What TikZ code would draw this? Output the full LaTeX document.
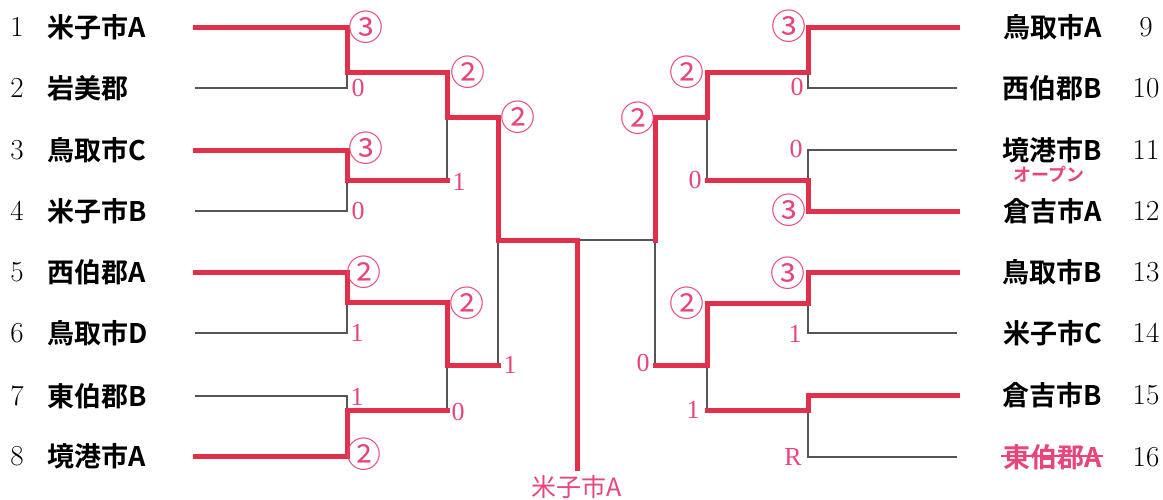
\documentclass[tikz,border=0pt]{standalone}
\usepackage{fontspec}
\newfontfamily\jp{Noto Sans CJK JP}
\newfontfamily\jpb{Noto Sans CJK JP Bold}
\newfontfamily\scorefont{Liberation Serif}
\definecolor{winred}{HTML}{E0304A}
\definecolor{scorepink}{HTML}{E8457A}
\definecolor{losegray}{HTML}{555555}
\begin{document}
\begin{tikzpicture}[x=1pt,y=-1pt,
  team/.style={font=\jpb\fontsize{27}{28}\selectfont, inner sep=0pt},
  num/.style={font=\fontsize{29}{30}\selectfont, inner sep=0pt},
  score/.style={text=scorepink, font=\scorefont\fontsize{26}{27}\selectfont, inner sep=0pt},
  circ/.style={text=scorepink, font=\jp\fontsize{35}{36}\selectfont, inner sep=0pt},
  lose/.style={draw=losegray, line width=1.2pt},
  win/.style={draw=winred, line width=5pt, line cap=rect, line join=miter}]
\useasboundingbox (0,0) rectangle (1163,499);

% ---------- left teams ----------
\foreach \i/\y/\t in {1/27/米子市A,2/88/岩美郡,3/150/鳥取市C,4/211/米子市B,5/272/西伯郡A,6/333/鳥取市D,7/396/東伯郡B,8/456/境港市A}{
  \node[num] (num\i) at (17,\y) {\i};
  \node[team, anchor=west] (n\i) at (47,\y) {\t};
  \coordinate (L\i) at (195,\y);
}
% ---------- right teams ----------
\foreach \i/\y/\t in {9/27/鳥取市A,10/88/西伯郡B,11/150/境港市B,12/211/倉吉市A,13/272/鳥取市B,14/333/米子市C,15/395/倉吉市B}{
  \node[num] (num\i) at (1146,\y) {\i};
  \node[team, anchor=east] (n\i) at (1102,\y) {\t};
  \coordinate (R\i) at (957,\y);
}
\node[num] (num16) at (1146,457) {16};
\node[team, anchor=east, text=scorepink] (n16) at (1102,457) {東伯郡A};
\coordinate (R16) at (957,457);
\draw[scorepink, line width=1.5pt] ([xshift=-2pt,yshift=1pt]n16.west) -- ([xshift=1pt,yshift=1pt]n16.east);
\node[text=scorepink, font=\jpb\fontsize{18}{18}\selectfont, inner sep=0pt] (open) at (1049,174) {オープン};

% ---------- junctions ----------
\coordinate (a1) at (347,72);  \coordinate (b1) at (347,180);
\coordinate (c1) at (347,302); \coordinate (d1) at (347,410);
\coordinate (e) at (447,117);  \coordinate (f) at (447,365);
\coordinate (g) at (498,240);
\coordinate (ct) at (577,240); \coordinate (cb) at (577,468);
\coordinate (h1) at (808,72);  \coordinate (i1) at (808,180);
\coordinate (j1) at (808,303); \coordinate (k1) at (808,410);
\coordinate (m) at (707,117);  \coordinate (n) at (707,365);
\coordinate (p) at (655,240);

% ---------- gray skeleton ----------
\draw[lose] (L1) -| (a1) (L2) -| (a1) (L3) -| (b1) (L4) -| (b1)
            (L5) -| (c1) (L6) -| (c1) (L7) -| (d1) (L8) -| (d1)
            (a1) -| (e) (b1) -| (e) (c1) -| (f) (d1) -| (f)
            (e) -| (g) (f) -| (g) (g) -- (ct) (p) -- (ct);
\draw[lose] (R9) -| (h1) (R10) -| (h1) (R11) -| (i1) (R12) -| (i1)
            (R13) -| (j1) (R14) -| (j1) (R15) -| (k1) (R16) -| (k1)
            (h1) -| (m) (i1) -| (m) (j1) -| (n) (k1) -| (n)
            (m) -| (p) (n) -| (p);

% ---------- winners ----------
\draw[win] (L1) -| (a1) -| (e) -| (g) -- (ct) -- (cb);
\draw[win] (L3) -| (b1) -- (b1 -| e);
\draw[win] (L5) -| (c1) -| (f) -- (f -| g);
\draw[win] (L8) -| (d1) -- (d1 -| e);
\draw[win] (R9) -| (h1) -| (m) -| (p);
\draw[win] (R12) -| (i1) -- (i1 -| m);
\draw[win] (R13) -| (j1) -| (n) -- (n -| p);
\draw[win] (R15) -| (k1) -- (k1 -| m);

\node[text=scorepink, font=\jp\fontsize{25}{26}\selectfont, inner sep=0pt] (champ) at (577,487) {米子市A};

% ---------- scores left ----------
\node[circ]  (s1) at (366,27) {③};
\node[score] (s2) at (358,88) {0};
\node[circ]  (s3) at (468,72) {②};
\node[circ]  (s4) at (366,148) {③};
\node[score] (s5) at (459,182) {1};
\node[score] (s6) at (358,211) {0};
\node[circ]  (s7) at (518,117) {②};
\node[circ]  (s8) at (364,272) {②};
\node[score] (s9) at (357,333) {1};
\node[circ]  (s10) at (467,303) {②};
\node[score] (s11) at (510,365) {1};
\node[score] (s12) at (357,397) {1};
\node[score] (s13) at (458,412) {0};
\node[circ]  (s14) at (364,454) {②};
% ---------- scores right ----------
\node[circ]  (r1) at (789,26) {③};
\node[score] (r2) at (797,87) {0};
\node[circ]  (r3) at (687,72) {②};
\node[score] (r4) at (796,149) {0};
\node[score] (r5) at (695,180) {0};
\node[circ]  (r6) at (789,210) {③};
\node[circ]  (r7) at (638,118) {②};
\node[circ]  (r8) at (788,273) {③};
\node[score] (r9) at (795,334) {1};
\node[circ]  (r10) at (687,303) {②};
\node[score] (r11) at (643,363) {0};
\node[score] (r12) at (693,410) {1};
\node[score] (r13) at (793,457) {R};
\end{tikzpicture}
\end{document}
